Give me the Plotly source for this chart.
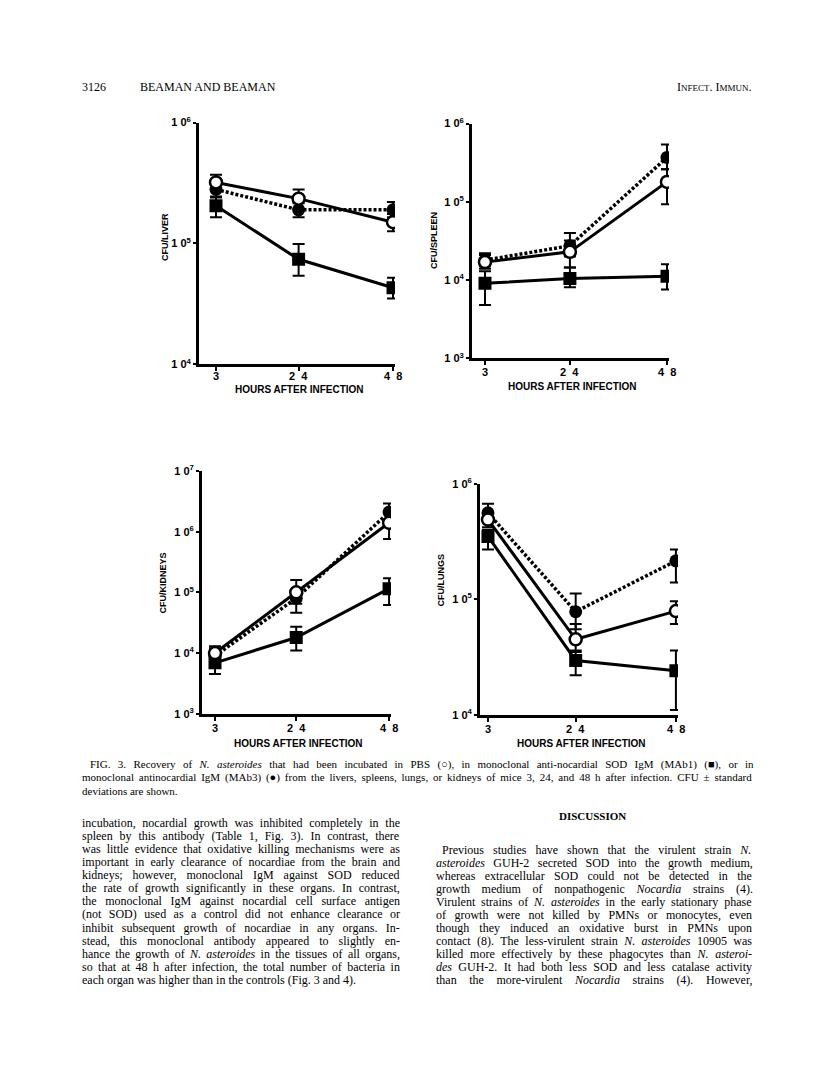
import re
import plotly.graph_objects as go

# page is drawn inside the default 8px body margin of the html page
OFF = 8
W, H = 816 - OFF, 1077 - OFF
def px(x): return (x - OFF) / W
def py(y): return 1 - (y - OFF) / H

hours = [3, 24, 48]
x_ticktext = ["3", "2&nbsp;&nbsp;4", "4&nbsp;&nbsp;8"]

# ---- data (CFU per organ) ----
liver_pbs = [3.2e5, 2.35e5, 1.5e5]
liver_pbs_hi = [3.7e5, 2.8e5, 1.75e5]
liver_pbs_lo = [2.75e5, 1.95e5, 1.26e5]
liver_mab1 = [2.05e5, 7.4e4, 4.3e4]
liver_mab1_hi = [2.45e5, 9.9e4, 5.2e4]
liver_mab1_lo = [1.65e5, 5.4e4, 3.5e4]
liver_mab3 = [2.8e5, 1.9e5, 1.9e5]
liver_mab3_hi = [3.2e5, 2.15e5, 2.2e5]
liver_mab3_lo = [2.4e5, 1.65e5, 1.65e5]

spleen_pbs = [1.7e4, 2.3e4, 1.8e5]
spleen_pbs_hi = [2.1e4, 3.2e4, 2.6e5]
spleen_pbs_lo = [1.4e4, 1.45e4, 9.3e4]
spleen_mab1 = [9.1e3, 1.05e4, 1.12e4]
spleen_mab1_hi = [1.3e4, 1.45e4, 1.6e4]
spleen_mab1_lo = [4.8e3, 8.1e3, 7.6e3]
spleen_mab3 = [1.8e4, 2.75e4, 3.7e5]
spleen_mab3_hi = [2.2e4, 4.0e4, 5.4e5]
spleen_mab3_lo = [1.5e4, 2.0e4, 2.6e5]

kidney_pbs = [1.0e4, 1.0e5, 1.4e6]
kidney_pbs_hi = [1.3e4, 1.6e5, 2.0e6]
kidney_pbs_lo = [8.0e3, 6.5e4, 7.6e5]
kidney_mab1 = [6.9e3, 1.8e4, 1.15e5]
kidney_mab1_hi = [9.0e3, 2.7e4, 1.7e5]
kidney_mab1_lo = [4.5e3, 1.1e4, 6.2e4]
kidney_mab3 = [9.0e3, 8.0e4, 2.1e6]
kidney_mab3_hi = [1.2e4, 1.1e5, 2.9e6]
kidney_mab3_lo = [7.0e3, 4.6e4, 1.5e6]

lung_pbs = [4.9e5, 4.5e4, 7.9e4]
lung_pbs_hi = [5.6e5, 6.1e4, 9.6e4]
lung_pbs_lo = [4.2e5, 3.5e4, 6.1e4]
lung_mab1 = [3.5e5, 2.95e4, 2.4e4]
lung_mab1_hi = [4.0e5, 3.6e4, 3.6e4]
lung_mab1_lo = [2.7e5, 2.2e4, 1.1e4]
lung_mab3 = [5.6e5, 7.8e4, 2.15e5]
lung_mab3_hi = [6.7e5, 1.12e5, 2.7e5]
lung_mab3_lo = [4.8e5, 5.5e4, 1.4e5]

panels = [
    dict(name="LIVER", ax="", data=(liver_pbs, liver_pbs_hi, liver_pbs_lo, liver_mab1, liver_mab1_hi, liver_mab1_lo, liver_mab3, liver_mab3_hi, liver_mab3_lo),
         xpx=(199, 395), xr=(-1.32, 48.5), ypx=(116, 361), yr=(4, 6), title_x=165, title_y=232, xtick_y=373, xtitle_y=386),
    dict(name="SPLEEN", ax="2", data=(spleen_pbs, spleen_pbs_hi, spleen_pbs_lo, spleen_mab1, spleen_mab1_hi, spleen_mab1_lo, spleen_mab3, spleen_mab3_hi, spleen_mab3_lo),
         xpx=(472, 669), xr=(-0.21, 48.5), ypx=(117, 355), yr=(3, 6), title_x=434, title_y=236, xtick_y=369, xtitle_y=383),
    dict(name="KIDNEYS", ax="3", data=(kidney_pbs, kidney_pbs_hi, kidney_pbs_lo, kidney_mab1, kidney_mab1_hi, kidney_mab1_lo, kidney_mab3, kidney_mab3_hi, kidney_mab3_lo),
         xpx=(202, 391), xr=(-0.36, 48.5), ypx=(469, 715), yr=(3, 7), title_x=163, title_y=583, xtick_y=729, xtitle_y=745),
    dict(name="LUNGS", ax="4", data=(lung_pbs, lung_pbs_hi, lung_pbs_lo, lung_mab1, lung_mab1_hi, lung_mab1_lo, lung_mab3, lung_mab3_hi, lung_mab3_lo),
         xpx=(480, 678), xr=(1.09, 48.5), ypx=(482, 716), yr=(4, 6), title_x=441, title_y=580, xtick_y=730, xtitle_y=745),
]

SANS = "Liberation Sans, Arial, sans-serif"
SERIF = "Liberation Serif, Times New Roman, serif"

fig = go.Figure()
layout = dict(width=W, height=H, margin=dict(l=0, r=0, t=0, b=0),
              paper_bgcolor="white", plot_bgcolor="white", showlegend=False)
annotations = []

def err(v, hi, lo):
    return dict(type="data", symmetric=False,
                array=[h - a for h, a in zip(hi, v)],
                arrayminus=[a - l for a, l in zip(v, lo)],
                color="black", thickness=2, width=6)

for p in panels:
    pbs, pbs_hi, pbs_lo, m1, m1_hi, m1_lo, m3, m3_hi, m3_lo = p["data"]
    xa, ya = "x" + p["ax"], "y" + p["ax"]
    fig.add_trace(go.Scatter(x=hours, y=m3, xaxis=xa, yaxis=ya, mode="lines+markers",
                             line=dict(color="black", width=3.5, dash="3px,2px"),
                             marker=dict(symbol="circle", size=13, color="black"),
                             error_y=err(m3, m3_hi, m3_lo)))
    fig.add_trace(go.Scatter(x=hours, y=m1, xaxis=xa, yaxis=ya, mode="lines+markers",
                             line=dict(color="black", width=3),
                             marker=dict(symbol="square", size=13, color="black"),
                             error_y=err(m1, m1_hi, m1_lo)))
    fig.add_trace(go.Scatter(x=hours, y=pbs, xaxis=xa, yaxis=ya, mode="lines+markers",
                             line=dict(color="black", width=3),
                             marker=dict(symbol="circle", size=12, color="white", line=dict(color="black", width=2.5)),
                             error_y=err(pbs, pbs_hi, pbs_lo)))
    lo, hi = p["yr"]
    yvals = [10 ** k for k in range(lo, hi + 1)]
    ytext = ["<b>1 0<sup>%d</sup></b>" % k for k in range(lo, hi + 1)]
    layout["xaxis" + p["ax"]] = dict(
        domain=[px(p["xpx"][0]), px(p["xpx"][1])], range=list(p["xr"]), anchor=ya,
        showline=True, linewidth=3, linecolor="black", showgrid=False, zeroline=False,
        ticks="outside", ticklen=4, tickwidth=2, tickcolor="black",
        tickvals=hours, showticklabels=False)
    layout["yaxis" + p["ax"]] = dict(
        domain=[py(p["ypx"][1]), py(p["ypx"][0])], type="log", range=[lo, hi], anchor=xa,
        showline=True, linewidth=3, linecolor="black", showgrid=False, zeroline=False,
        ticks="outside", ticklen=3, tickwidth=2, tickcolor="black",
        tickvals=yvals, ticktext=ytext,
        tickfont=dict(family=SANS, size=11, color="black"))
    # x tick labels placed at data positions of the x axis
    for h, t in zip(hours, x_ticktext):
        annotations.append(dict(x=h, xref=xa, y=py(p["xtick_y"]), yref="paper",
                                text="<b>%s</b>" % t, showarrow=False,
                                font=dict(family=SANS, size=11, color="black"),
                                xanchor="center", yanchor="middle"))
    annotations.append(dict(x=px(p["title_x"]), y=py(p["title_y"]), xref="paper", yref="paper",
                            text="<b>CFU/%s</b>" % p["name"], textangle=-90, showarrow=False,
                            font=dict(family=SANS, size=9, color="black"),
                            xanchor="center", yanchor="middle"))
    annotations.append(dict(x=px((p["xpx"][0] + p["xpx"][1]) / 2 + 2), y=py(p["xtitle_y"]), xref="paper", yref="paper",
                            text="<b>HOURS AFTER INFECTION</b>", showarrow=False,
                            font=dict(family=SANS, size=10, color="black"),
                            xanchor="center", yanchor="middle"))

# --- page text (Times metrics, used to justify lines) ---
TW = {' ': 250, '.': 250, ',': 250, ';': 278, ':': 278, '(': 333, ')': 333, '-': 333, '±': 564,
      '○': 494, '■': 604, '●': 604}
for c, w in zip("abcdefghijklmnopqrstuvwxyz",
                [444, 500, 444, 500, 444, 333, 500, 500, 278, 278, 500, 278, 778, 500, 500, 500, 500, 333, 389, 278, 500, 500, 722, 500, 500, 444]):
    TW[c] = w
for c, w in zip("ABCDEFGHIJKLMNOPQRSTUVWXYZ",
                [722, 667, 667, 722, 611, 556, 722, 722, 333, 389, 722, 611, 889, 722, 722, 556, 722, 667, 556, 611, 722, 722, 944, 722, 722, 611]):
    TW[c] = w
for c in "0123456789":
    TW[c] = 500

def natural(s, size):
    plain = re.sub(r"<[^>]+>", "", s)
    return sum(TW.get(c, 500) for c in plain) * size / 1000.0, plain.count(" ")

def txt(x, y, s, size=12, anchor="left", family=SERIF, right=None):
    if right is not None:
        w, n = natural(s, size)
        if n:
            ws = (right - x - w) / n
            s = "<span style='word-spacing:%.2fpx'>%s</span>" % (ws, s)
    annotations.append(dict(x=px(x), y=py(y), xref="paper", yref="paper", text=s, showarrow=False,
                            font=dict(family=family, size=size, color="black"),
                            xanchor=anchor, yanchor="middle", borderpad=0, borderwidth=0))

LEFT, LEFT_R = 82, 400
RIGHT, RIGHT_R = 436, 752

# header
txt(82, 80, "3126", 12)
txt(140, 80, "BEAMAN AND BEAMAN", 12)
txt(752, 80, "I<span style='font-size:9px'>NFECT</span>. I<span style='font-size:9px'>MMUN</span>.", 12, anchor="right")

# caption
caption = [
    (90, "FIG. 3. Recovery of <i>N. asteroides</i> that had been incubated in PBS (○), in monoclonal anti-nocardial SOD IgM (MAb1) (■), or in", True),
    (LEFT, "monoclonal antinocardial IgM (MAb3) (●) from the livers, spleens, lungs, or kidneys of mice 3, 24, and 48 h after infection. CFU ± standard", True),
    (LEFT, "deviations are shown.", False),
]
for i, (x, s, just) in enumerate(caption):
    txt(x, 766 + 13.5 * i, s, 11, right=RIGHT_R if just else None)

left_col = [
    "incubation, nocardial growth was inhibited completely in the",
    "spleen by this antibody (Table 1, Fig. 3). In contrast, there",
    "was little evidence that oxidative killing mechanisms were as",
    "important in early clearance of nocardiae from the brain and",
    "kidneys; however, monoclonal IgM against SOD reduced",
    "the rate of growth significantly in these organs. In contrast,",
    "the monoclonal IgM against nocardial cell surface antigen",
    "(not SOD) used as a control did not enhance clearance or",
    "inhibit subsequent growth of nocardiae in any organs. In-",
    "stead, this monoclonal antibody appeared to slightly en-",
    "hance the growth of <i>N. asteroides</i> in the tissues of all organs,",
    "so that at 48 h after infection, the total number of bacteria in",
    "each organ was higher than in the controls (Fig. 3 and 4).",
]
for i, s in enumerate(left_col):
    last = i == len(left_col) - 1
    txt(LEFT, 826 + 13.2 * i, s, 12, right=None if last else LEFT_R)

txt(592, 819, "<b>DISCUSSION</b>", 11, anchor="center")
right_col = [
    (442, "Previous studies have shown that the virulent strain <i>N.</i>"),
    (RIGHT, "<i>asteroides</i> GUH-2 secreted SOD into the growth medium,"),
    (RIGHT, "whereas extracellular SOD could not be detected in the"),
    (RIGHT, "growth medium of nonpathogenic <i>Nocardia</i> strains (4)."),
    (RIGHT, "Virulent strains of <i>N. asteroides</i> in the early stationary phase"),
    (RIGHT, "of growth were not killed by PMNs or monocytes, even"),
    (RIGHT, "though they induced an oxidative burst in PMNs upon"),
    (RIGHT, "contact (8). The less-virulent strain <i>N. asteroides</i> 10905 was"),
    (RIGHT, "killed more effectively by these phagocytes than <i>N. asteroi-</i>"),
    (RIGHT, "<i>des</i> GUH-2. It had both less SOD and less catalase activity"),
    (RIGHT, "than the more-virulent <i>Nocardia</i> strains (4). However,"),
]
for i, (x, s) in enumerate(right_col):
    txt(x, 853 + 13.2 * i, s, 12, right=RIGHT_R)

layout["annotations"] = annotations
fig.update_layout(**layout)
fig.write_html("out.html")
